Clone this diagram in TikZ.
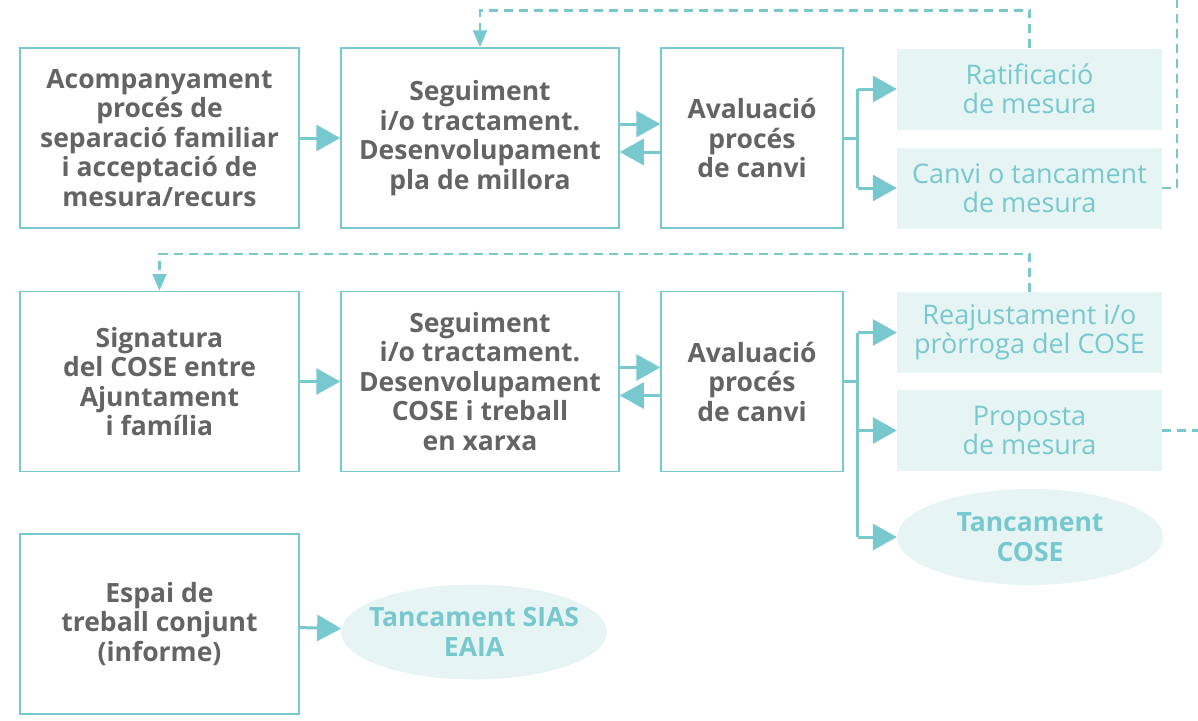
\documentclass[tikz,border=0pt]{standalone}
\usepackage{fontspec}
\setmainfont{Open Sans}
\usetikzlibrary{arrows.meta, shapes.geometric}
\definecolor{teal}{HTML}{78C8CF}
\definecolor{fons}{HTML}{E6F4F4}
\definecolor{gris}{HTML}{646464}
\tikzset{every picture/.style = {x=1pt, y=-1pt}}
\tikzset{caixa/.style = {draw=teal, line width=1.5pt, fill=white, text=gris, align=center, inner sep=0,
  font=\fontsize{26.5}{29.5}\selectfont\bfseries}}
\tikzset{clara/.style = {fill=fons, text=teal, align=center, inner sep=0, minimum width=265, minimum height=81,
  font=\fontsize{27}{29.5}\selectfont}}
\tikzset{oval/.style = {ellipse, fill=fons, text=teal, align=center, inner sep=0, inner xsep=-25pt,
  minimum width=266, minimum height=96, font=\fontsize{26.5}{29.5}\selectfont\bfseries}}
\tikzset{fletxa/.style = {draw=teal, line width=3pt, -{Triangle[length=24pt, width=26pt]}}}
\tikzset{linia/.style = {draw=teal, line width=3pt}}
\tikzset{retorn/.style = {draw=teal, line width=2.5pt, dash pattern=on 9pt off 6pt, -{Triangle[length=17pt, width=14pt]}}}
\tikzset{lliure/.style = {draw=teal, line width=2.5pt, dash pattern=on 9pt off 6pt}}

\begin{document}
\begin{tikzpicture}
  \useasboundingbox (0, 0) rectangle (1198, 720);
  % fila 1
  \node[caixa, minimum width=279, minimum height=180] (acomp) at (159.5, 138)
    {Acompanyament\\procés de\\separació familiar\\i acceptació de\\mesura/recurs};
  \node[caixa, minimum width=278, minimum height=180] (seg1) at (480, 138)
    {Seguiment\\i/o tractament.\\Desenvolupament\\pla de millora};
  \node[caixa, minimum width=182, minimum height=180] (aval1) at (752, 138)
    {Avaluació\\procés\\de canvi};
  \node[clara] (rati) at (1029.5, 89) {Ratificació\\de mesura};
  \node[clara] (canvi) at (1029.5, 188) {Canvi o tancament\\de mesura};
  % fila 2
  \node[caixa, minimum width=279, minimum height=180] (sign) at (159.5, 381.5)
    {Signatura\\del COSE entre\\Ajuntament\\i família};
  \node[caixa, minimum width=278, minimum height=180] (seg2) at (480, 381.5)
    {Seguiment\\i/o tractament.\\Desenvolupament\\COSE i treball\\en xarxa};
  \node[caixa, minimum width=182, minimum height=180] (aval2) at (752, 381.5)
    {Avaluació\\procés\\de canvi};
  \node[clara] (reaj) at (1029.5, 332.5) {Reajustament i/o\\pròrroga del COSE};
  \node[clara] (prop) at (1029.5, 430.5) {Proposta\\de mesura};
  \node[oval] (tcose) at (1030, 537) {Tancament\\COSE};
  % fila 3
  \node[caixa, minimum width=279, minimum height=180] (espai) at (159.5, 624)
    {Espai de\\treball conjunt\\(informe)};
  \node[oval, minimum height=95] (tsias) at (474, 632) {Tancament SIAS\\EAIA};
  % fletxes
  \draw[fletxa] (acomp) -- (seg1);
  \draw[fletxa] ([yshift=14pt]seg1.east) -- ([yshift=14pt]aval1.west);
  \draw[fletxa] ([yshift=-14pt]aval1.west) -- ([yshift=-14pt]seg1.east);
  \draw[linia] (aval1.east) -- ++(14, 0) coordinate (nus1);
  \draw[linia] (nus1 |- rati) -- (nus1 |- canvi);
  \draw[fletxa] (nus1 |- rati) -- (rati.west);
  \draw[fletxa] (nus1 |- canvi) -- (canvi.west);
  \draw[fletxa] (sign) -- (seg2);
  \draw[fletxa] ([yshift=14pt]seg2.east) -- ([yshift=14pt]aval2.west);
  \draw[fletxa] ([yshift=-14pt]aval2.west) -- ([yshift=-14pt]seg2.east);
  \draw[linia] (aval2.east) -- ++(14, 0) coordinate (nus2);
  \draw[linia] (nus2 |- reaj) -- (nus2 |- tcose);
  \draw[fletxa] (nus2 |- reaj) -- (reaj.west);
  \draw[fletxa] (nus2 |- prop) -- (prop.west);
  \draw[fletxa] (nus2 |- tcose) -- (tcose.west);
  \draw[fletxa] (espai) -- (tsias);
  % retorns
  \draw[retorn] (rati.north) -- ++(0, -38) -| (seg1.north);
  \coordinate (sortida1) at (1177, 0);
  \draw[lliure] (canvi.east) -| (sortida1);
  \draw[retorn] (reaj.north) -- ++(0, -38) -| (sign.north);
  \coordinate (sortida2) at (1198, 430.5);
  \draw[lliure] (prop.east) -- (sortida2);
\end{tikzpicture}
\end{document}
